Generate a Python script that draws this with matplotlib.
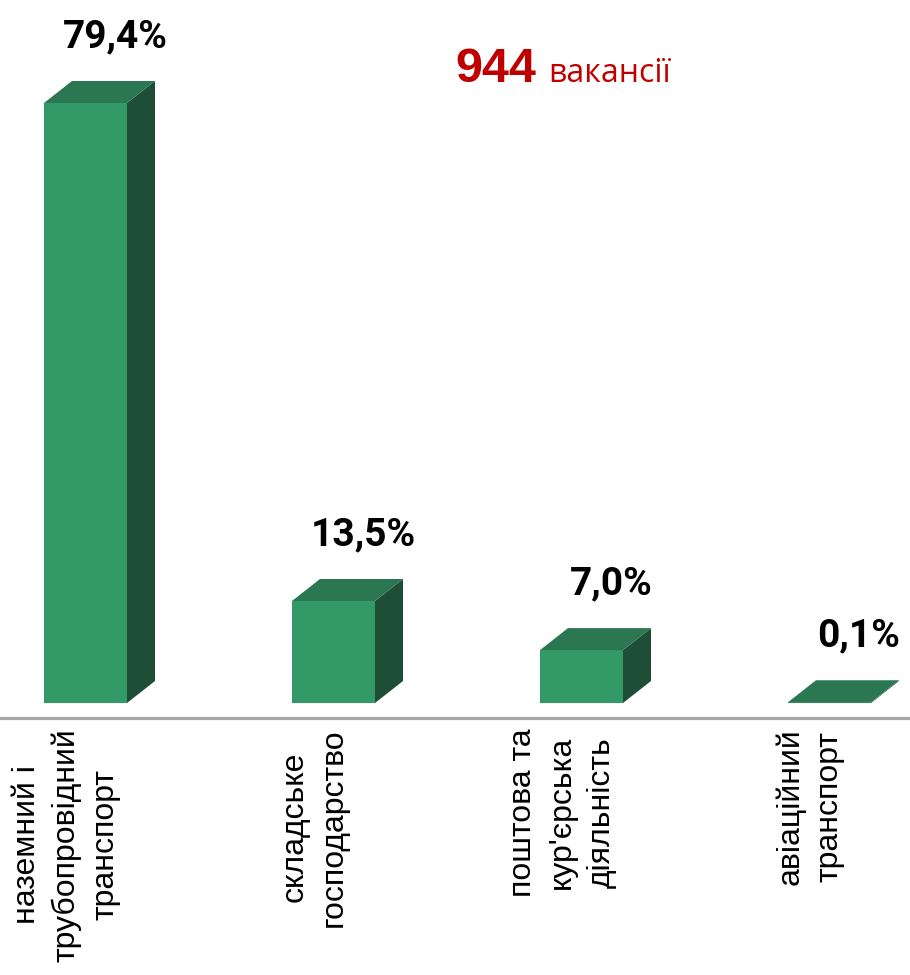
import matplotlib.pyplot as plt
from matplotlib.patches import Polygon

# Data
categories = ['наземний і\nтрубопровідний\nтранспорт',
              'складське\nгосподарство',
              'поштова та\nкур\'єрська\nдіяльність',
              'авіаційний\nтранспорт']
shares = [79.4, 13.5, 7.0, 0.1]
share_labels = ['79,4%', '13,5%', '7,0%', '0,1%']
total_count = '944'
total_word = 'вакансії'

# Colours
FRONT = '#339966'
TOP = '#2a7752'
SIDE = '#1f4e36'
RED = '#c00000'

W_PX, H_PX = 910, 975
fig = plt.figure(figsize=(W_PX / 100, H_PX / 100), dpi=100)
ax = fig.add_axes([0, 0, 1, 1])
ax.set_axis_off()

# pixel <-> data mapping (category spacing 248 px, 7.557 px per percent)
px_per_cat = 248.0
px_per_pct = 600.0 / 79.4
first_center_px = 85.5
baseline_px = 703  # from top

ax.set_xlim(-first_center_px / px_per_cat, (W_PX - first_center_px) / px_per_cat)
ax.set_ylim(-(H_PX - baseline_px) / px_per_pct, baseline_px / px_per_pct)

bar_w = 83 / px_per_cat
dx = 28 / px_per_cat
dy = 22 / px_per_pct

xs = list(range(len(shares)))
ax.bar(xs, shares, width=bar_w, color=FRONT, linewidth=0, zorder=2)

for x, h in zip(xs, shares):
    l, r = x - bar_w / 2, x + bar_w / 2
    top = Polygon([(l, h), (l + dx, h + dy), (r + dx, h + dy), (r, h)],
                  closed=True, facecolor=TOP, edgecolor='none', zorder=3)
    side = Polygon([(r, 0), (r, h), (r + dx, h + dy), (r + dx, dy)],
                   closed=True, facecolor=SIDE, edgecolor='none', zorder=1)
    ax.add_patch(side)
    ax.add_patch(top)

# category axis line
ax.axhline(-15 / px_per_pct, color='#a6a6a6', lw=2.3, zorder=0)

# value labels
for x, h, lab in zip(xs, shares, share_labels):
    ax.annotate(lab, (x + dx, h + dy), xytext=(1, 32), textcoords='offset points',
                ha='center', va='center', fontsize=28, fontweight='bold',
                family=['Roboto', 'DejaVu Sans'], color='black')

# category labels
for x, cat in zip(xs, categories):
    ax.annotate(cat, (x, -25 / px_per_pct), xytext=(-14, 0), textcoords='offset points',
                rotation=90, ha='center', va='top', multialignment='center',
                fontsize=23, family=['Liberation Sans', 'DejaVu Sans'], color='black',
                linespacing=1.4)

# total vacancies note
fig.text(536 / W_PX, 1 - 82 / H_PX, total_count, ha='right', va='baseline',
         fontsize=35, fontweight='bold', color=RED, family=['Liberation Sans', 'DejaVu Sans'])
fig.text(548 / W_PX, 1 - 82 / H_PX, total_word, ha='left', va='baseline',
         fontsize=23, color=RED, family=['Open Sans', 'DejaVu Sans'])

fig.savefig('out.png', dpi=100)
